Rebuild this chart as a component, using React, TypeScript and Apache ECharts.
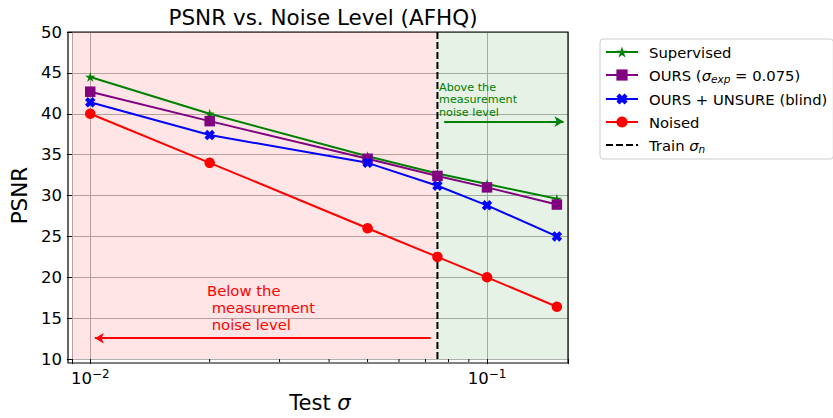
import React, { useEffect, useRef } from 'react';
import * as echarts from 'echarts';

const sigmas = [0.01, 0.02, 0.05, 0.075, 0.1, 0.15];
const supervised = [44.5, 40.0, 34.8, 32.7, 31.4, 29.6];
const oursExp = [42.7, 39.1, 34.5, 32.4, 31.0, 28.9];
const oursBlind = [41.4, 37.4, 34.0, 31.2, 28.8, 25.0];
const noised = [40.0, 34.0, 26.0, 22.5, 20.0, 16.4];
const trainSigma = 0.075;
const xRange = [0.00899, 0.16];
const yRange = [10, 50];
const yInterval = 5;
const minorTicks = [0.02, 0.03, 0.04, 0.05, 0.06, 0.07, 0.08, 0.09];
const seriesNames = ['Supervised', 'OURS (σexp = 0.075)', 'OURS + UNSURE (blind)', 'Noised', 'Train σn'];
const aboveArrow = [[0.078, 39.05], [0.1559, 39.05]];
const belowArrow = [[0.0721, 12.55], [0.01027, 12.55]];
const aboveText = 'Above the\nmeasurement\nnoise level';
const belowText = 'Below the\n measurement\n noise level';

const FONT = 'DejaVu Sans';

const STAR = 'path://M0,-1 L0.2245,-0.309 L0.951,-0.309 L0.363,0.118 L0.588,0.809 L0,0.382 L-0.588,0.809 L-0.363,0.118 L-0.951,-0.309 L-0.2245,-0.309 Z';
const XMARK = 'path://M-1,-0.45 L-0.45,-1 L0,-0.55 L0.45,-1 L1,-0.45 L0.55,0 L1,0.45 L0.45,1 L0,0.55 L-0.45,1 L-1,0.45 L-0.55,0 Z';

const legendRich: Record<string, string> = {
  'OURS (σexp = 0.075)': '{n|OURS (}{i|σ}{s|exp}{n| = 0.075)}',
  'Train σn': '{n|Train }{i|σ}{s|n}',
};

const GRID = { left: 68, top: 32, width: 500, height: 331 };

export default function App() {
  const ref = useRef<HTMLDivElement>(null);
  useEffect(() => {
    if (!ref.current) return;
    const chart = echarts.init(ref.current, undefined, { renderer: 'svg' });
    const pts = (ys: number[]) => sigmas.map((s, i) => [s, ys[i]]);
    const lineSeries = (name: string, ys: number[], color: string, symbol: string, size: number) => ({
      type: 'line',
      name,
      data: pts(ys),
      symbol,
      symbolSize: size,
      showSymbol: true,
      itemStyle: { color },
      lineStyle: { color, width: 2 },
      z: 3,
      silent: true,
    });
    chart.setOption({
      animation: false,
      textStyle: { fontFamily: FONT },
      title: {
        text: 'PSNR vs. Noise Level (AFHQ)',
        left: GRID.left + GRID.width / 2,
        textAlign: 'center',
        top: 1,
        textStyle: { fontSize: 21.5, fontWeight: 'normal', color: '#000', fontFamily: FONT },
      },
      grid: { left: GRID.left, top: GRID.top, width: GRID.width, height: GRID.height },
      legend: {
        orient: 'vertical',
        left: 600,
        top: 39,
        padding: [5, 6, 5, 5],
        itemWidth: 32,
        itemHeight: 14,
        itemGap: 7,
        backgroundColor: '#fff',
        borderColor: '#cccccc',
        borderWidth: 1,
        borderRadius: 3,
        data: seriesNames.map((n) => (n === 'Train σn' ? { name: n, itemStyle: { opacity: 0 } } : { name: n })),
        formatter: (name: string) => legendRich[name] ?? `{n|${name}}`,
        textStyle: {
          padding: [0, 0, 0, 6],
          lineHeight: 16,
          rich: {
            n: { fontSize: 14.8, color: '#000', fontFamily: FONT },
            i: { fontSize: 14.8, color: '#000', fontFamily: FONT, fontStyle: 'italic' },
            s: { fontSize: 10.5, color: '#000', fontFamily: FONT, fontStyle: 'italic', padding: [7, 0, 0, 0] },
          },
        },
      },
      xAxis: [
        {
          type: 'log',
          logBase: 10,
          min: xRange[0],
          max: xRange[1],
          position: 'bottom',
          axisLine: { show: false },
          axisTick: { show: true, length: 5, lineStyle: { color: '#000', width: 1 } },
          axisLabel: {
            margin: 9,
            formatter: (v: number) => {
              const e = Math.log10(v);
              if (Math.abs(e - Math.round(e)) < 1e-6) return `{b|10}{e|−${-Math.round(e)}}`;
              return '';
            },
            rich: {
              b: { fontSize: 16.5, color: '#000', fontFamily: FONT },
              e: { fontSize: 12, color: '#000', fontFamily: FONT, padding: [0, 0, 9, 0] },
            },
          },
          splitLine: { show: true, lineStyle: { color: '#b0b0b0', width: 1 } },
          name: '{n|Test }{i|σ}',
          nameLocation: 'middle',
          nameGap: 31,
          nameTextStyle: {
            rich: {
              n: { fontSize: 21, color: '#000', fontFamily: FONT },
              i: { fontSize: 21, color: '#000', fontFamily: FONT, fontStyle: 'italic' },
            },
          },
        },
      ],
      yAxis: [
        {
          type: 'value',
          min: yRange[0],
          max: yRange[1],
          interval: yInterval,
          axisLine: { show: false },
          axisTick: { show: true, length: 5, lineStyle: { color: '#000', width: 1 } },
          axisLabel: { fontSize: 16.5, color: '#000', margin: 10, fontFamily: FONT },
          splitLine: { show: true, lineStyle: { color: '#b0b0b0', width: 1 } },
          name: 'PSNR',
          nameLocation: 'middle',
          nameGap: 35,
          nameTextStyle: { fontSize: 21.5, color: '#000', fontFamily: FONT },
        },
      ],
      graphic: [
        {
          type: 'rect',
          shape: { x: GRID.left, y: GRID.top, width: GRID.width, height: GRID.height },
          style: { fill: 'none', stroke: '#000', lineWidth: 1.2 },
          z: 100,
          silent: true,
        },
        {
          type: 'text',
          x: 439,
          y: 81,
          style: { text: aboveText, fill: '#008000', fontSize: 11.2, lineHeight: 12.5, fontFamily: FONT },
          z: 50,
        },
        {
          type: 'text',
          x: 207,
          y: 282,
          style: { text: belowText, fill: '#ff0000', fontSize: 14.8, lineHeight: 17, fontFamily: FONT },
          z: 50,
        },
      ],
      series: [
        {
          type: 'line',
          name: '__shade',
          data: [],
          z: -1,
          silent: true,
          markArea: {
            silent: true,
            data: [
              [{ xAxis: xRange[0], itemStyle: { color: 'rgba(255,0,0,0.1)' } }, { xAxis: trainSigma }],
              [{ xAxis: trainSigma, itemStyle: { color: 'rgba(0,128,0,0.1)' } }, { xAxis: xRange[1] }],
            ],
          },
        },
        {
          type: 'custom',
          name: '__minor',
          silent: true,
          data: minorTicks.map((v) => [v, yRange[0]]),
          renderItem: (_p: any, api: any) => {
            const p = api.coord([api.value(0), api.value(1)]);
            return {
              type: 'line',
              shape: { x1: p[0], y1: p[1], x2: p[0], y2: p[1] + 3 },
              style: { stroke: '#000', lineWidth: 1 },
            };
          },
          z: 5,
        },
        {
          type: 'line',
          name: seriesNames[4],
          data: [[trainSigma, yRange[0]], [trainSigma, yRange[1]]],
          symbol: 'none',
          itemStyle: { color: '#000' },
          lineStyle: { color: '#000', width: 2, type: [7, 3] },
          z: 1,
          silent: true,
        },
        lineSeries(seriesNames[0], supervised, '#008000', STAR, 10),
        lineSeries(seriesNames[1], oursExp, '#800080', 'rect', 10.5),
        lineSeries(seriesNames[2], oursBlind, '#0000ff', XMARK, 10.5),
        lineSeries(seriesNames[3], noised, '#ff0000', 'circle', 10.5),
        {
          type: 'line',
          name: '__arrows',
          data: [],
          z: 4,
          silent: true,
          markLine: {
            silent: true,
            symbol: ['none', 'arrow'],
            symbolSize: [8, 9],
            label: { show: false },
            data: [
              [
                { coord: aboveArrow[0], lineStyle: { color: '#008000', width: 2, type: 'solid' } },
                { coord: aboveArrow[1] },
              ],
              [
                { coord: belowArrow[0], lineStyle: { color: '#ff0000', width: 2, type: 'solid' } },
                { coord: belowArrow[1] },
              ],
            ],
          },
        },
      ],
    });
    return () => chart.dispose();
  }, []);
  return <div ref={ref} style={{ width: 833, height: 418, position: 'absolute', left: 0, top: 0 }} />;
}
